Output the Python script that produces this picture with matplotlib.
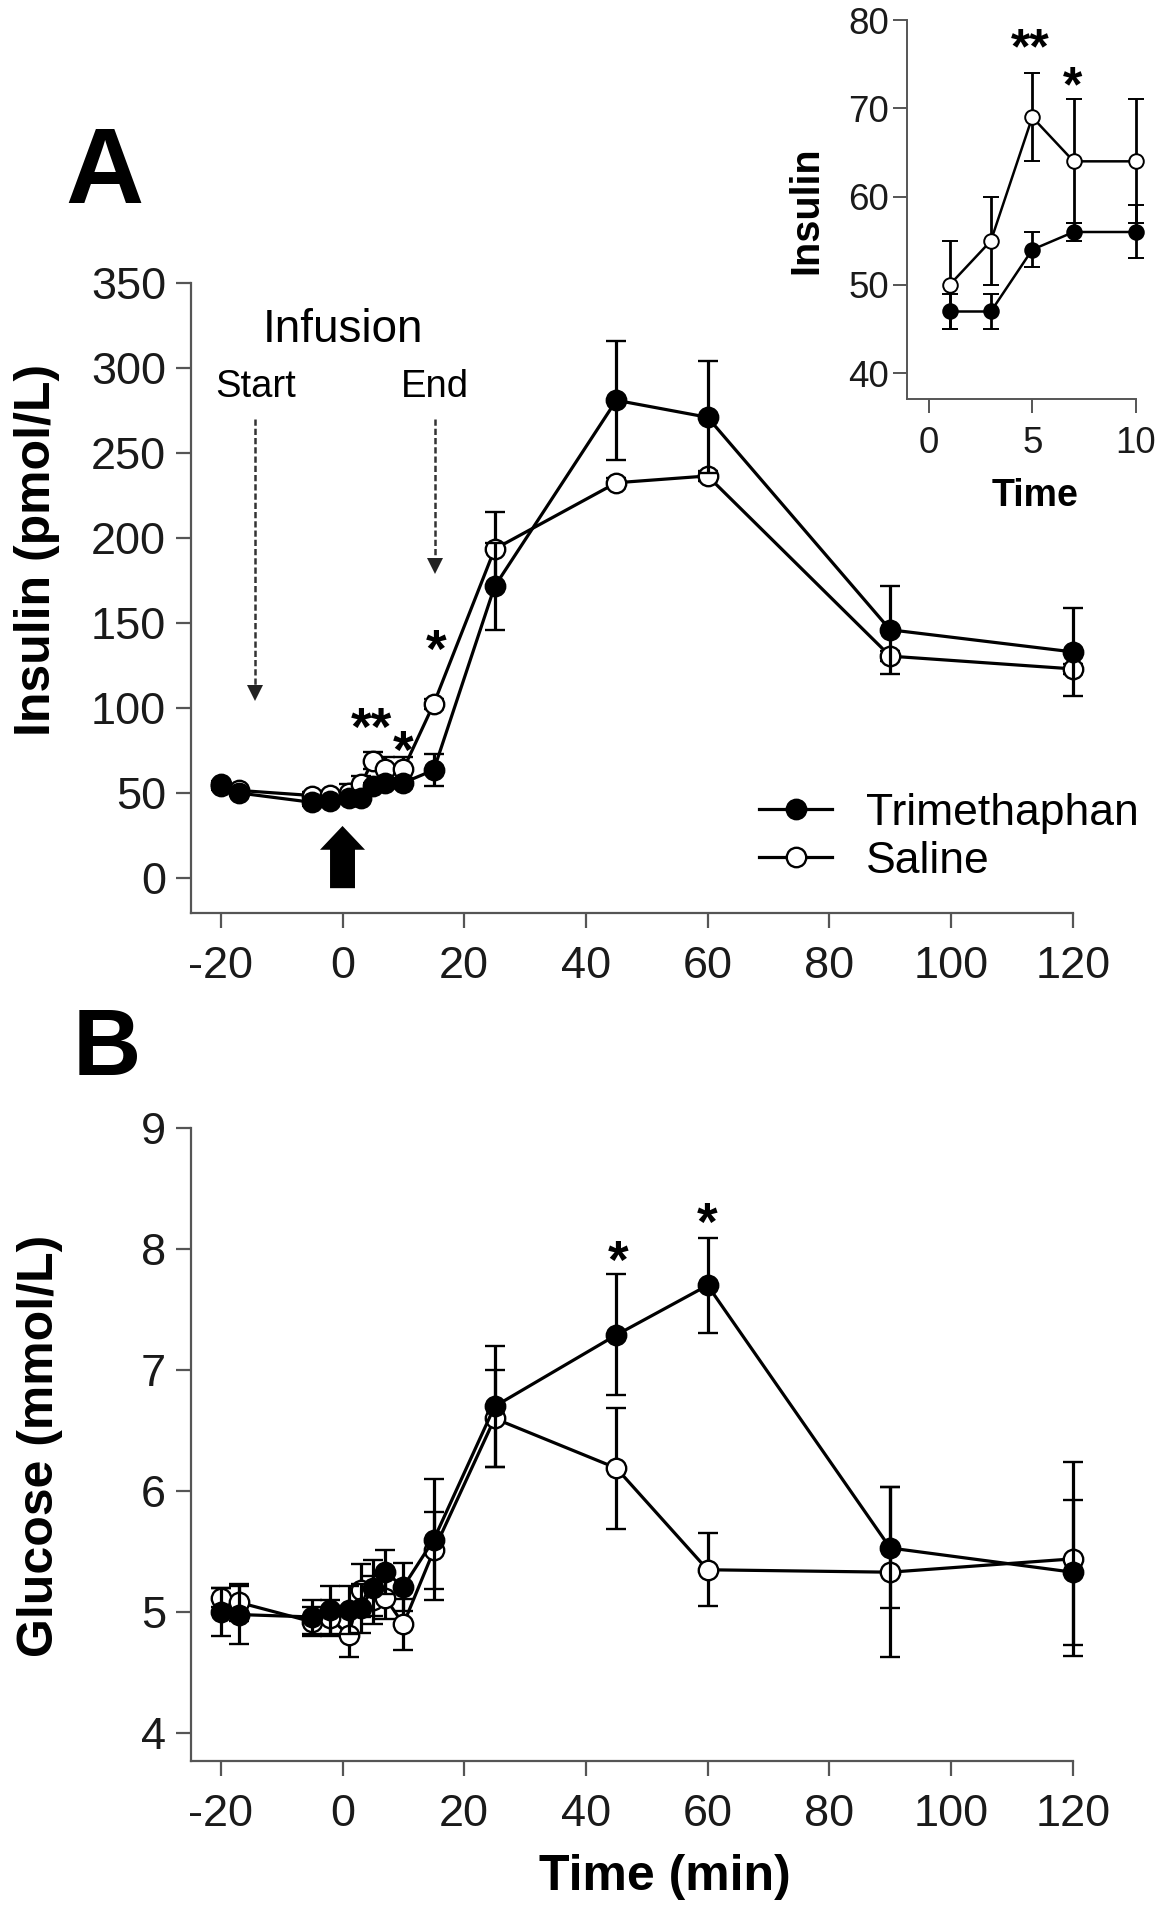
import matplotlib
matplotlib.use('Agg')
import matplotlib.pyplot as plt
from matplotlib.lines import Line2D

plt.rcParams['font.family'] = ['Liberation Sans', 'DejaVu Sans']
plt.rcParams['axes.unicode_minus'] = False

# ---------------- data ----------------
time = [-20, -17, -5, -2, 1, 3, 5, 7, 10, 15, 25, 45, 60, 90, 120]

ins_tri = [55, 50, 44.5, 45.5, 47, 47, 54, 56, 56, 63.5, 171.5, 281, 271, 146, 133]
ins_tri_err = [2, 2, 2, 2, 2, 2, 2, 1, 3, 9.5, 25.5, 35, 33, 26, 26]
ins_sal = [54, 51.5, 48.5, 49, 50, 55, 69, 64, 64, 102.5, 193.5, 232.5, 236.5, 130.5, 123]
ins_sal_err = [2, 2, 2, 2, 5, 5, 5, 7, 7, 3, 22, 3, 3, 3, 3]

glu_tri = [5.0, 4.98, 4.96, 5.02, 5.02, 5.03, 5.2, 5.33, 5.21, 5.6, 6.7, 7.29, 7.70, 5.53, 5.33]
glu_tri_err = [0.2, 0.24, 0.14, 0.2, 0.2, 0.2, 0.23, 0.18, 0.2, 0.5, 0.5, 0.5, 0.39, 0.5, 0.6]
glu_sal = [5.12, 5.08, 4.92, 4.95, 4.81, 5.18, 5.1, 5.12, 4.9, 5.51, 6.6, 6.19, 5.35, 5.33, 5.44]
glu_sal_err = [0.08, 0.15, 0.12, 0.15, 0.18, 0.22, 0.2, 0.18, 0.21, 0.32, 0.4, 0.5, 0.3, 0.7, 0.8]

inset_time = [1, 3, 5, 7, 10]
inset_tri = [47, 47, 54, 56, 56]
inset_tri_err = [2, 2, 2, 1, 3]
inset_sal = [50, 55, 69, 64, 64]
inset_sal_err = [5, 5, 5, 7, 7]

series_labels = ['Trimethaphan', 'Saline']
x_ticks = [-20, 0, 20, 40, 60, 80, 100, 120]
ins_ticks = [0, 50, 100, 150, 200, 250, 300, 350]
glu_ticks = [4, 5, 6, 7, 8, 9]
inset_xticks = [0, 5, 10]
inset_yticks = [40, 50, 60, 70, 80]

# ---------------- figure ----------------
W, H = 1164, 1920
fig = plt.figure(figsize=(W / 100, H / 100), dpi=100)


def px_axes(l, t, r, b):
    return fig.add_axes([l / W, 1 - b / H, (r - l) / W, (b - t) / H])


axA = px_axes(191, 283, 1072.7, 913)
axB = px_axes(191, 1128, 1072.7, 1761)
axI = px_axes(906.7, 20, 1135.7, 399.3)

SPINE = '#555555'


def style(ax, fs, lw=1.6, ticklen=11, xpad=13, ypad=7):
    for s in ['top', 'right']:
        ax.spines[s].set_visible(False)
    for s in ['left', 'bottom']:
        ax.spines[s].set_color(SPINE)
        ax.spines[s].set_linewidth(lw)
    ax.tick_params(direction='out', length=ticklen, width=lw, color=SPINE,
                   labelsize=fs, labelcolor='#1a1a1a')
    ax.tick_params(axis='x', pad=xpad)
    ax.tick_params(axis='y', pad=ypad)
    ax.patch.set_alpha(0)


def series(ax, x, y, e, filled, ms, lw, cap, elw, mew):
    cont = ax.errorbar(x, y, yerr=e, fmt='-o', color='black',
                       mfc='black' if filled else 'white', mec='black',
                       ms=ms, lw=lw, capsize=cap, elinewidth=elw, capthick=elw,
                       mew=mew, zorder=4 if filled else 3)
    for art in cont.get_children():
        art.set_clip_on(False)


def star(ax, x, y, txt, fs=38):
    ax.annotate(txt, xy=(x, y), xytext=(0, -0.58 * fs), textcoords='offset points',
                ha='center', va='baseline', fontsize=fs, fontweight='bold')


# ---------------- Panel A ----------------
style(axA, 32.5)
axA.set_xlim(-24.9, 120)
axA.set_ylim(-20.6, 350)
axA.set_xticks(x_ticks)
axA.set_yticks(ins_ticks)
series(axA, time, ins_sal, ins_sal_err, False, 14, 2.3, 7, 2.3, 1.7)
series(axA, time, ins_tri, ins_tri_err, True, 14, 2.3, 7, 2.3, 1.7)

axA.text(0, 315, 'Infusion', ha='center', va='baseline', fontsize=33)
axA.text(-14.3, 283, 'Start', ha='center', va='baseline', fontsize=27.5)
axA.text(15.2, 283, 'End', ha='center', va='baseline', fontsize=27.5)
for xa, ytop, ytip in [(-14.3, 270, 104.7), (15.2, 270, 179)]:
    axA.plot([xa, xa], [ytop, ytip + 8], color='#333333', lw=1.8,
             dashes=(2.5, 1.2), zorder=2)
    axA.plot([xa], [ytip + 4.4], marker='v', ms=11, color='#222222',
             mew=0, zorder=2)
axA.arrow(0, -6, 0, 36.6, width=4.1, head_width=7.4, head_length=14,
          length_includes_head=True, color='black', lw=0, zorder=5)

star(axA, 4.8, 96, '**')
star(axA, 10, 83, '*')
star(axA, 15.3, 142, '*')

handles = [Line2D([], [], color='black', marker='o', mfc='black', mec='black', ms=14, lw=2.3, mew=1.7),
           Line2D([], [], color='black', marker='o', mfc='white', mec='black', ms=14, lw=2.3, mew=1.7)]
axA.legend(handles, series_labels, loc='upper left', bbox_to_anchor=(759 / W, 1 - 793 / H),
           bbox_transform=fig.transFigure, frameon=False, fontsize=32,
           handlelength=1.65, handletextpad=0.75, labelspacing=0.15,
           borderpad=0, borderaxespad=0)

# ---------------- Panel B ----------------
style(axB, 32.5)
axB.set_xlim(-24.9, 120)
axB.set_ylim(3.77, 9)
axB.set_xticks(x_ticks)
axB.set_yticks(glu_ticks)
series(axB, time, glu_sal, glu_sal_err, False, 14, 2.3, 7, 2.3, 1.7)
series(axB, time, glu_tri, glu_tri_err, True, 14, 2.3, 7, 2.3, 1.7)
star(axB, 45.3, 8.01, '*')
star(axB, 60, 8.33, '*')

# ---------------- Inset ----------------
style(axI, 26.5, lw=1.4, ticklen=10, xpad=9, ypad=3)
axI.set_xlim(-1.07, 10)
axI.set_ylim(37.06, 80)
axI.set_xticks(inset_xticks)
axI.set_yticks(inset_yticks)
series(axI, inset_time, inset_sal, inset_sal_err, False, 10.5, 1.8, 6, 2.0, 1.4)
series(axI, inset_time, inset_tri, inset_tri_err, True, 10.5, 1.8, 6, 2.0, 1.4)
star(axI, 4.9, 78.4, '**', fs=36)
star(axI, 6.94, 74.1, '*', fs=36)

# ---------------- labels ----------------
fig.text(806 / W, 1 - 210 / H, 'Insulin', rotation=90, fontsize=28.5, fontweight='bold',
         ha='center', va='center')
fig.text(1035 / W, 1 - 496 / H, 'Time', fontsize=27, fontweight='bold',
         ha='center', va='center')
fig.text(37 / W, 1 - 550 / H, 'Insulin (pmol/L)', rotation=90, fontsize=36,
         fontweight='bold', ha='center', va='center')
fig.text(40 / W, 1 - 1446 / H, 'Glucose (mmol/L)', rotation=90, fontsize=36,
         fontweight='bold', ha='center', va='center')
fig.text(665 / W, 1 - 1877 / H, 'Time (min)', fontsize=36, fontweight='bold',
         ha='center', va='center')
fig.text(65 / W, 1 - 203 / H, 'A', fontsize=78, fontweight='bold', ha='left', va='baseline')
fig.text(73 / W, 1 - 1075 / H, 'B', fontsize=68, fontweight='bold', ha='left', va='baseline')

fig.savefig('out.png', dpi=100, facecolor='white')
